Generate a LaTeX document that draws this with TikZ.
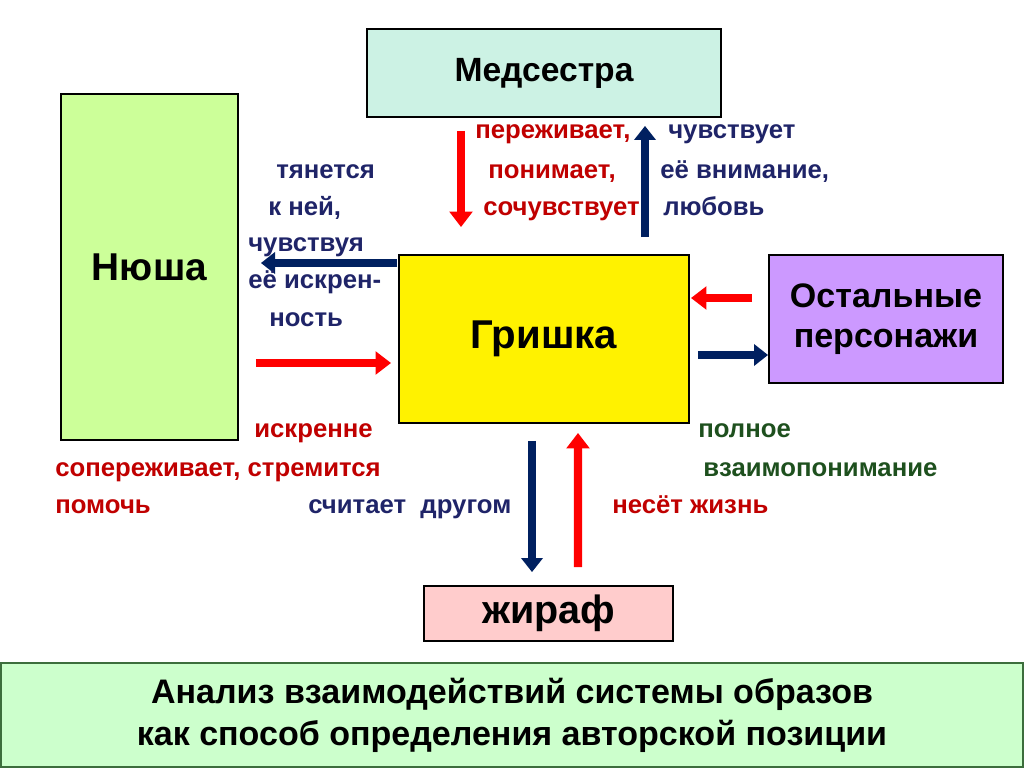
\documentclass[tikz,border=0pt]{standalone}
\usepackage{fontspec}
\setmainfont{Liberation Sans}
\usetikzlibrary{positioning, arrows.meta, calc}
\definecolor{MintFill}{RGB}{204,242,228}
\definecolor{LimeFill}{RGB}{204,255,153}
\definecolor{LilacFill}{RGB}{204,153,255}
\definecolor{PinkFill}{RGB}{255,204,204}
\definecolor{BannerFill}{RGB}{204,255,204}
\definecolor{BannerLine}{RGB}{60,110,60}
\definecolor{ArrowRed}{RGB}{255,0,0}
\definecolor{ArrowBlue}{RGB}{0,32,96}
\definecolor{TextRed}{RGB}{192,0,0}
\definecolor{TextBlue}{RGB}{31,36,104}
\definecolor{TextGreen}{RGB}{30,80,30}

\begin{document}
\begin{tikzpicture}[x=0.025cm, y=-0.025cm, every node/.style={font=\bfseries},
  box/.style={rectangle, draw=black, line width=1.3pt, align=center, inner sep=2pt},
  redarrow/.style={-{Triangle[width=16pt, length=11pt]}, line width=6pt, ArrowRed},
  bluearrow/.style={-{Triangle[width=15pt, length=10pt]}, line width=5.5pt, ArrowBlue},
  lbl/.style={anchor=mid west, inner sep=0pt, font=\bfseries\fontsize{18.3}{21}\selectfont}
]
    \useasboundingbox (0,0) rectangle (1024,768);

    % characters
    \node[box, fill=MintFill, minimum width=8.85cm, minimum height=2.2cm,
      font=\bfseries\fontsize{23.9}{28}\selectfont] (med) at (544,73) {Медсестра};
    \node[box, fill=LimeFill, minimum width=4.425cm, minimum height=8.65cm,
      font=\bfseries\fontsize{27.6}{32}\selectfont] (nyu) at (149.5,267) {Нюша};
    \node[box, fill=yellow, minimum width=7.25cm, minimum height=4.2cm,
      font=\bfseries\fontsize{28.6}{33}\selectfont] (gri) at (544,339) {Гришка};
    \node[box, fill=LilacFill, minimum width=5.85cm, minimum height=3.2cm,
      font=\bfseries\fontsize{24.2}{28.5}\selectfont] (ost) at (886,319) {Остальные\\персонажи};
    \node[box, fill=PinkFill, minimum width=6.225cm, minimum height=1.375cm,
      font=\bfseries\fontsize{28.1}{32}\selectfont] (zhi) at (548.5,613.5) {жираф};

    % links
    \draw[redarrow] ($(med.south)+(-83,13)$) -- ($(gri.north)+(-83,-27)$);
    \draw[bluearrow] ($(gri.north)+(101,-17)$) -- ($(med.south)+(101,8)$);
    \draw[bluearrow] ($(gri.west)+(-1,-76)$) -- ($(nyu.east|-gri.west)+(22,-76)$);
    \draw[redarrow] ($(nyu.east|-gri.west)+(17,24)$) -- ($(gri.west)+(-7,24)$);
    \draw[redarrow] ($(ost.west)+(-16,-21)$) -- ($(gri.east)+(1,-41)$);
    \draw[bluearrow] ($(gri.east)+(8,16)$) -- ($(ost.west)+(0,36)$);
    \draw[bluearrow] ($(gri.south)+(-12,17)$) -- ($(zhi.north)+(-16.5,-13)$);
    \draw[redarrow] ($(zhi.north)+(29.5,-18)$) -- ($(gri.south)+(34,9)$);

    % labels
    \node[lbl, TextRed] (l1) at (475,135) {переживает,};
    \node[lbl, TextBlue] (l2) at (668,135) {чувствует};
    \node[lbl, TextBlue] (l3) at (276,175) {тянется};
    \node[lbl, TextRed] (l4) at (488,175) {понимает,};
    \node[lbl, TextBlue] (l5) at (660,175) {её внимание,};
    \node[lbl, TextBlue] (l6) at (268,212) {к ней,};
    \node[lbl, TextRed] (l7) at (483,212) {сочувствует};
    \node[lbl, TextBlue] (l8) at (663,212) {любовь};
    \node[lbl, TextBlue] (l9) at (248,248) {чувствуя};
    \node[lbl, TextBlue] (l10) at (248,285) {её искрен-};
    \node[lbl, TextBlue] (l11) at (269,323) {ность};
    \node[lbl, TextRed] (l12) at (254,434) {искренне};
    \node[lbl, TextRed] (l13) at (55,473) {сопереживает, стремится};
    \node[lbl, TextRed] (l14) at (55,510) {помочь};
    \node[lbl, TextBlue] (l15) at (308,510) {считает\ \ другом};
    \node[lbl, TextRed] (l16) at (612,510) {несёт жизнь};
    \node[lbl, TextGreen] (l17) at (698,434) {полное};
    \node[lbl, TextGreen] (l18) at (703,473) {взаимопонимание};

    % title
    \node[rectangle, draw=BannerLine, line width=1pt, fill=BannerFill,
      minimum width=25.55cm, minimum height=2.6cm, align=center,
      font=\bfseries\fontsize{24.2}{30}\selectfont] (title) at (512,715)
      {Анализ взаимодействий системы образов\\как способ определения авторской позиции};
\end{tikzpicture}
\end{document}
